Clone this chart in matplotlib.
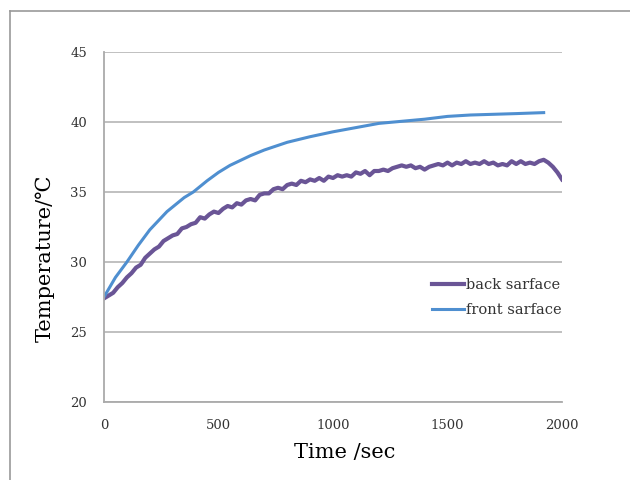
import numpy as np
import matplotlib
matplotlib.use("Agg")
import matplotlib.pyplot as plt
from matplotlib.lines import Line2D

# ---- data ----
# back surface sampled every 20 s
t_back = list(range(0, 2001, 20))
temp_back = [27.4, 27.6, 27.8, 28.2, 28.5, 28.9, 29.2, 29.6, 29.8, 30.3,
             30.6, 30.9, 31.1, 31.5, 31.7, 31.9, 32.0, 32.4, 32.5, 32.7,
             32.8, 33.2, 33.1, 33.4, 33.6, 33.5, 33.8, 34.0, 33.9, 34.2,
             34.1, 34.4, 34.5, 34.4, 34.8, 34.9, 34.9, 35.2, 35.3, 35.2,
             35.5, 35.6, 35.5, 35.8, 35.7, 35.9, 35.8, 36.0, 35.8, 36.1,
             36.0, 36.2, 36.1, 36.2, 36.1, 36.4, 36.3, 36.5, 36.2, 36.5,
             36.5, 36.6, 36.5, 36.7, 36.8, 36.9, 36.8, 36.9, 36.7, 36.8,
             36.6, 36.8, 36.9, 37.0, 36.9, 37.1, 36.9, 37.1, 37.0, 37.2,
             37.0, 37.1, 37.0, 37.2, 37.0, 37.1, 36.9, 37.0, 36.9, 37.2,
             37.0, 37.2, 37.0, 37.1, 37.0, 37.2, 37.3, 37.1, 36.8, 36.4,
             35.9]

t_front = [0, 50, 100, 150, 200, 275, 350, 390, 450, 500, 550, 640, 700, 800, 900,
           1000, 1100, 1200, 1300, 1400, 1500, 1600, 1700, 1800, 1920]
temp_front = [27.5, 28.9, 30.0, 31.2, 32.3, 33.6, 34.6, 35.0, 35.8, 36.4, 36.9, 37.6,
              38.0, 38.55, 38.95, 39.3, 39.6, 39.9, 40.05, 40.2, 40.4, 40.5, 40.55,
              40.6, 40.67]

xticks = [0, 500, 1000, 1500, 2000]
yticks = [20, 25, 30, 35, 40, 45]

# ---- plot ----
plt.rcParams['font.family'] = ['DejaVu Serif', 'DejaVu Sans']

fig = plt.figure(figsize=(6.3, 4.8), dpi=100)
ax = fig.add_axes([104/630, 78/480, 458/630, 350/480])

ax.plot(t_back, temp_back, color='#6a5596', lw=3.0, label='back sarface', solid_joinstyle='round')
ax.plot(t_front, temp_front, color='#4f8fd0', lw=2.2, label='front sarface')

ax.set_xlim(0, 2000)
ax.set_ylim(20, 45)
ax.set_xticks(xticks)
ax.set_yticks(yticks)
ax.tick_params(length=0, pad=12, labelsize=9.5, labelcolor='#333333')
ax.grid(axis='y', color='#bbbbbb', lw=1.3)
ax.set_axisbelow(True)
for s in ['top', 'right']:
    ax.spines[s].set_visible(False)
for s in ['left', 'bottom']:
    ax.spines[s].set_color('#aaaaaa')
    ax.spines[s].set_linewidth(1.3)

leg = ax.legend(loc='center left', bbox_to_anchor=(432/630, 1 - 297.5/480),
                bbox_transform=fig.transFigure, frameon=False, fontsize=10.5,
                handlelength=2.2, handletextpad=0.15, labelspacing=0.8,
                borderpad=0, borderaxespad=0)
for txt in leg.get_texts():
    txt.set_color('#333333')

fig.text(345/630, 1 - 453/480, 'Time /sec', ha='center', va='center', fontsize=15)
fig.text(45/630, 1 - 258/480, 'Temperature/℃', ha='center', va='center',
         rotation=90, fontsize=15)

# outer frame (only left and top visible)
fig.add_artist(Line2D([9.5/630, 9.5/630], [0, 1 - 10.5/480], color='#999999', lw=1.2,
                      transform=fig.transFigure))
fig.add_artist(Line2D([9.5/630, 1], [1 - 10.5/480, 1 - 10.5/480], color='#999999', lw=1.2,
                      transform=fig.transFigure))

fig.savefig('out.png', dpi=100)
